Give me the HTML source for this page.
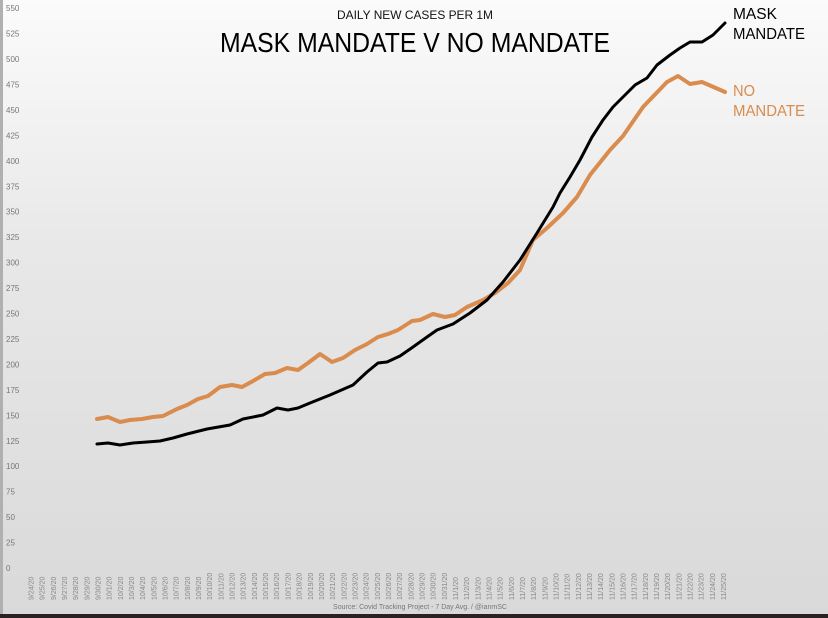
<!DOCTYPE html>
<html><head><style>
html,body{margin:0;padding:0}
body{width:828px;height:618px;overflow:hidden;background:linear-gradient(#fbfbfb,#e8e8e8 40%,#d9d9d9);position:relative;font-family:"Liberation Sans",sans-serif}
</style></head><body>
<svg width="828" height="618" style="position:absolute;left:0;top:0">
<rect x="0" y="0" width="3" height="618" fill="#b0b0b0"/>
<rect x="0" y="614" width="828" height="4" fill="#2a2220"/>
<g font-size="8" fill="#777" font-family="Liberation Sans, sans-serif" id="yl"></g>
<g font-size="7" fill="#888" font-family="Liberation Sans, sans-serif" id="xl"></g>
<text x="337" y="19" font-size="12" textLength="156" lengthAdjust="spacingAndGlyphs" fill="#111">DAILY NEW CASES PER 1M</text>
<text x="220" y="52" font-size="28" textLength="390" lengthAdjust="spacingAndGlyphs" fill="#000">MASK MANDATE V NO MANDATE</text>
<text x="733" y="19" font-size="16" textLength="44" lengthAdjust="spacingAndGlyphs" fill="#000">MASK</text>
<text x="733" y="39" font-size="16" textLength="72" lengthAdjust="spacingAndGlyphs" fill="#000">MANDATE</text>
<text x="733" y="96" font-size="16" textLength="22" lengthAdjust="spacingAndGlyphs" fill="#d98c4e">NO</text>
<text x="733" y="116" font-size="16" textLength="72" lengthAdjust="spacingAndGlyphs" fill="#d98c4e">MANDATE</text>
<text x="420" y="609" font-size="7" text-anchor="middle" fill="#777">Source: Covid Tracking Project - 7 Day Avg. / @ianmSC</text>
<polyline fill="none" stroke="#d98c4e" stroke-width="4" stroke-linejoin="round" stroke-linecap="round" points="97,419 108,417 120,422 130,420 142,419 153,417 163,416 177,409 187,405 198,399 208,396 220,387 232,385 242,387 253,381 265,374 275,373 287,368 298,370 308,363 320,354 332,362 343,358 355,350 367,344 378,337 388,334 398,330 412,321 420,320 433,314 445,317 455,315 467,307 483,300 495,293 508,283 520,270 533,240 547,228 563,213 577,197 590,175 610,150 623,136 643,107 667,82 678,76 690,84 702,82 725,92"/>
<polyline fill="none" stroke="#000" stroke-width="3" stroke-linejoin="round" stroke-linecap="round" points="97,444 108,443 120,445 133,443 147,442 160,441 173,438 187,434 207,429 230,425 243,419 263,415 277,408 288,410 298,408 310,403 330,395 353,385 367,372 378,363 387,362 400,356 413,347 427,337 437,330 453,324 470,313 487,300 503,282 520,260 537,233 553,207 560,193 570,177 580,160 592,137 603,120 613,107 623,97 635,85 647,78 657,65 670,55 680,48 690,42 702,42 713,35 725,23"/>
</svg>
<script>
var ns="http://www.w3.org/2000/svg";
var yl=document.getElementById("yl");
for(var v=0;v<=550;v+=25){var t=document.createElementNS(ns,"text");t.setAttribute("x","6");t.setAttribute("y",(568-v*1.018+3).toFixed(1));t.textContent=v;yl.appendChild(t);}
var xl=document.getElementById("xl");
var d=new Date(2020,8,24);
for(var i=0;i<63;i++){var x=31+11.17*i;var t=document.createElementNS(ns,"text");
t.setAttribute("transform","translate("+(x+2.5).toFixed(1)+",600) rotate(-90)");
t.textContent=(d.getMonth()+1)+"/"+d.getDate()+"/20";xl.appendChild(t);d.setDate(d.getDate()+1);}
</script>
</body></html>
